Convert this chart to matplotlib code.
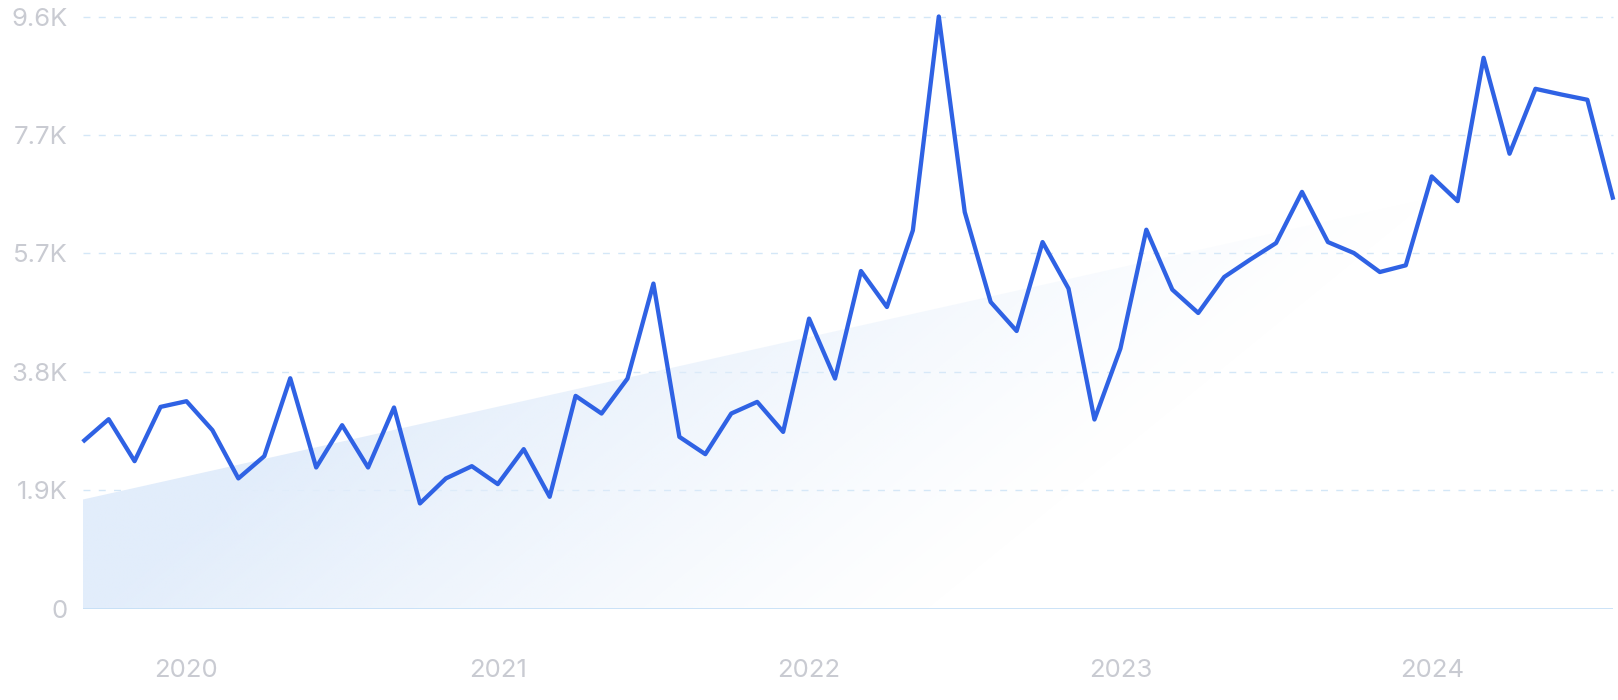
import numpy as np
import matplotlib
matplotlib.use("Agg")
import matplotlib.pyplot as plt
from matplotlib.patches import Polygon
from matplotlib.colors import to_rgb

# ---- data (monthly, Sep 2019 .. Aug 2024) ----
months = np.arange(60)  # 0 = Sep 2019
values = [2700, 3066, 2388, 3265, 3357, 2889, 2109, 2469, 3728, 2286,
          2969, 2286, 3255, 1705, 2109, 2307, 2017, 2582, 1812, 3443,
          3158, 3723, 5258, 2781, 2501, 3158, 3346, 2861, 4692, 3723,
          5461, 4880, 6118, 9575, 6414, 4960, 4492, 5929, 5177, 3061,
          4208, 6129, 5161, 4783, 5364, 5645, 5913, 6740, 5929, 5752,
          5445, 5553, 6990, 6591, 8907, 7357, 8406, 8314, 8229, 6614]
year_tick_pos = [4, 16, 28, 40, 52]
year_labels = ["2020", "2021", "2022", "2023", "2024"]
y_ticks = [0, 1915, 3830, 5745, 7660, 9575]
y_labels = ["0", "1.9K", "3.8K", "5.7K", "7.7K", "9.6K"]

plt.rcParams['font.family'] = ['Inter', 'DejaVu Sans']

W, H = 1618, 700
fig = plt.figure(figsize=(W / 100, H / 100), dpi=100)
left, right = 82.7 / W, 1613.3 / W
bottom, top = 1 - 608.9 / H, 1 - 16.5 / H
ax = fig.add_axes([left, bottom, right - left, top - bottom])

x = months
y = np.array(values, dtype=float)
ax.set_xlim(x[0], x[-1])
ax.set_ylim(0, y_ticks[-1])

# trend area with diagonal gradient
coef = np.polyfit(x, y, 1)
trend = np.polyval(coef, x)
poly = Polygon(np.column_stack([np.r_[x, x[-1], x[0]], np.r_[trend, 0, 0]]),
               closed=True, facecolor='none', edgecolor='none')
ax.add_patch(poly)
axw = (right - left) * W
axh = (top - bottom) * H
nu, nv = 400, 200
u = np.linspace(0, 1, nu)
v = np.linspace(1, 0, nv)
U, V = np.meshgrid(u, v)
px, py = U * axw, V * axh
d = np.array([349.0, -428.0]); d /= np.linalg.norm(d)
t = px * d[0] + py * d[1]
alpha = np.clip(1 - t / 540.0, 0, 1) ** 1.2
rgb = to_rgb('#e2edfb')
img = np.zeros((nv, nu, 4))
img[..., 0], img[..., 1], img[..., 2] = rgb
img[..., 3] = alpha
im = ax.imshow(img, extent=[x[0], x[-1], 0, y_ticks[-1]], aspect='auto',
               zorder=1, interpolation='bilinear')
im.set_clip_path(poly)

# grid lines
for yt in y_ticks[1:]:
    ax.axhline(yt, color='#d4e7f7', lw=1.0, ls=(0, (5, 6)), zorder=0, clip_on=False)
ax.axhline(0, color='#c3def6', lw=1.2, zorder=2)

ax.plot(x, y, color='#2f62e4', lw=3.1, solid_joinstyle='round',
        solid_capstyle='butt', zorder=3, clip_on=False)

for s in ax.spines.values():
    s.set_visible(False)
ax.set_yticks(y_ticks)
ax.set_yticklabels(y_labels)
ax.set_xticks(year_tick_pos)
ax.set_xticklabels(year_labels)
ax.tick_params(axis='both', length=0, labelcolor='#c9cbd2', labelsize=18.5)
ax.tick_params(axis='y', pad=11)
ax.tick_params(axis='x', pad=36)

fig.savefig('out.png', dpi=100)
